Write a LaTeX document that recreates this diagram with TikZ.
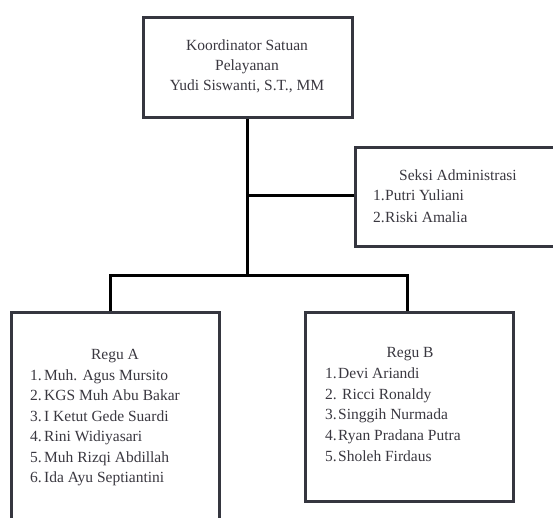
\documentclass[tikz,border=0pt]{standalone}
\usepackage{fontspec}
\setmainfont{Liberation Serif}
\newfontfamily\orgserif{Liberation Serif}
\definecolor{boxc}{HTML}{35363F}
\definecolor{txtc}{HTML}{3A3840}
\begin{document}
\begin{tikzpicture}[x=1pt,y=-1pt,
  box/.style={draw=boxc, line width=3pt, rectangle, inner sep=0pt},
  conn/.style={draw=black, line width=3pt},
  txt/.style={font=\orgserif\fontsize{15.5}{20}\selectfont, text=txtc, inner sep=0pt},
  lst/.style={txt, anchor=base west},
  ttl/.style={txt, anchor=base}]
\useasboundingbox (0,0) rectangle (553,517);
\clip (0,0) rectangle (553,517);
\fill[white] (0,0) rectangle (553,517);
% boxes
\node[box, minimum width=209pt, minimum height=100pt] (top) at (247.5,67) {};
\node[box, minimum width=210pt, minimum height=99pt] (seksi) at (460,196.5) {};
\node[box, minimum width=208pt, minimum height=215pt] (regA) at (115,419.5) {};
\node[box, minimum width=208pt, minimum height=189pt] (regB) at (409,406.5) {};
% connectors
\coordinate (j1) at (247,195);
\coordinate (j2) at (247,275);
\coordinate (jA) at (110,275);
\coordinate (jB) at (407,275);
\draw[conn] (top.south -| j1) -- (j2);
\draw[conn] (j1) -- (j1 -| seksi.west);
\draw[conn] (jA |- regA.north) -- (jA) -- (jB) -- (jB |- regB.north);
% top text
\node[ttl] (t1) at (247,50) {Koordinator Satuan};
\node[ttl] (t2) at (247,70) {Pelayanan};
\node[ttl] (t3) at (247,90) {Yudi Siswanti, S.T., MM};
% seksi text
\node[ttl] (s0) at (458,180) {Seksi Administrasi};
\node[lst] (s1) at (373,200) {\makebox[12pt][l]{1.}Putri Yuliani};
\node[lst] (s2) at (373,222) {\makebox[12pt][l]{2.}Riski Amalia};
% Regu A
\node[ttl] (a0) at (115,359) {Regu A};
\node[lst] (a1) at (30,380) {\makebox[14pt][l]{1.}Muh. Agus Mursito};
\node[lst] (a2) at (30,400.5) {\makebox[14pt][l]{2.}KGS Muh Abu Bakar};
\node[lst] (a3) at (30,421) {\makebox[14pt][l]{3.}I Ketut Gede Suardi};
\node[lst] (a4) at (30,441.5) {\makebox[14pt][l]{4.}Rini Widiyasari};
\node[lst] (a5) at (30,462) {\makebox[14pt][l]{5.}Muh Rizqi Abdillah};
\node[lst] (a6) at (30,482.5) {\makebox[14pt][l]{6.}Ida Ayu Septiantini};
% Regu B
\node[ttl] (b0) at (410,357) {Regu B};
\node[lst] (b1) at (325,378) {\makebox[13pt][l]{1.}Devi Ariandi};
\node[lst] (b2) at (325,399) {\makebox[17pt][l]{2.}Ricci Ronaldy};
\node[lst] (b3) at (325,419.5) {\makebox[13pt][l]{3.}Singgih Nurmada};
\node[lst] (b4) at (325,440.5) {\makebox[13pt][l]{4.}Ryan Pradana Putra};
\node[lst] (b5) at (325,461.5) {\makebox[13pt][l]{5.}Sholeh Firdaus};
\end{tikzpicture}
\end{document}
